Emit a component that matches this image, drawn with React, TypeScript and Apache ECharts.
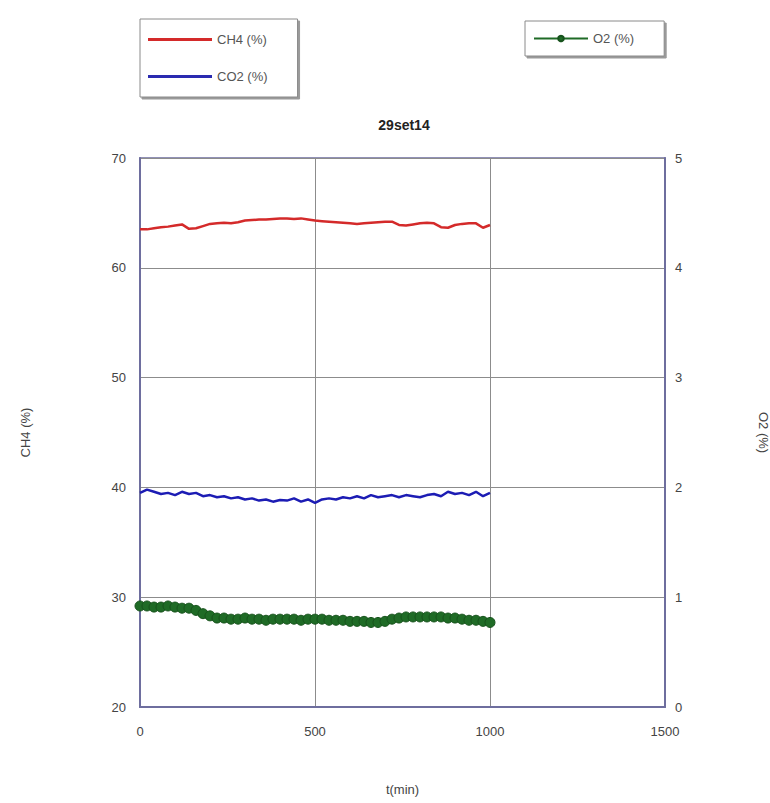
import React, { useEffect, useRef } from "react";
import * as echarts from "echarts";

// Sampling times (min)
const times = [
  0, 20, 40, 60, 80, 100, 120, 140, 160, 180, 200, 220, 240, 260, 280, 300, 320,
  340, 360, 380, 400, 420, 440, 460, 480, 500, 520, 540, 560, 580, 600, 620, 640,
  660, 680, 700, 720, 740, 760, 780, 800, 820, 840, 860, 880, 900, 920, 940, 960,
  980, 1000,
];

// Methane (%), left axis
const ch4 = [
  63.5, 63.5, 63.6, 63.7, 63.75, 63.85, 63.95, 63.55, 63.6, 63.8, 64.0, 64.05,
  64.1, 64.05, 64.15, 64.3, 64.35, 64.4, 64.4, 64.45, 64.5, 64.5, 64.45, 64.5,
  64.4, 64.3, 64.25, 64.2, 64.15, 64.1, 64.05, 64.0, 64.05, 64.1, 64.15, 64.2,
  64.2, 63.9, 63.85, 63.95, 64.05, 64.1, 64.05, 63.7, 63.65, 63.9, 64.0, 64.05,
  64.05, 63.65, 63.9,
];

// Carbon dioxide (%), left axis
const co2 = [
  39.5, 39.8, 39.6, 39.4, 39.5, 39.3, 39.6, 39.4, 39.5, 39.2, 39.3, 39.1, 39.2,
  39.0, 39.1, 38.9, 39.0, 38.8, 38.9, 38.7, 38.85, 38.8, 39.0, 38.7, 38.9, 38.6,
  38.9, 39.0, 38.9, 39.1, 39.0, 39.2, 39.0, 39.3, 39.1, 39.2, 39.3, 39.1, 39.3,
  39.2, 39.1, 39.3, 39.4, 39.2, 39.6, 39.4, 39.5, 39.3, 39.6, 39.2, 39.5,
];

// Oxygen (%), right axis
const o2 = [
  0.92, 0.92, 0.91, 0.91, 0.92, 0.91, 0.9, 0.9, 0.88, 0.85, 0.83, 0.81, 0.81,
  0.8, 0.8, 0.81, 0.8, 0.8, 0.79, 0.8, 0.8, 0.8, 0.8, 0.79, 0.8, 0.8, 0.8, 0.79,
  0.79, 0.79, 0.78, 0.78, 0.78, 0.77, 0.77, 0.78, 0.8, 0.81, 0.82, 0.82, 0.82,
  0.82, 0.82, 0.82, 0.81, 0.81, 0.8, 0.79, 0.79, 0.78, 0.77,
];

const xTicks = { min: 0, max: 1500, interval: 500 };
const leftTicks = { min: 20, max: 70, interval: 10 };
const rightTicks = { min: 0, max: 5, interval: 1 };

const pairs = (ys: number[]) => times.map((t, i) => [t, ys[i]]);

const FONT = "Liberation Sans";
const AXIS_COLOR = "#6e6e9e";
const TEXT_COLOR = "#444";
const RED = "#d42a2a";
const BLUE = "#2a2ab0";
const GREEN = "#1f6b26";

export default function App() {
  const ref = useRef<HTMLDivElement>(null);

  useEffect(() => {
    if (!ref.current) return;
    const chart = echarts.init(ref.current, undefined, { renderer: "svg" });

    const legendBox = {
      orient: "vertical" as const,
      backgroundColor: "#fff",
      borderColor: "#8a8a8a",
      borderWidth: 1,
      shadowColor: "#9a9a9a",
      shadowOffsetX: 2,
      shadowOffsetY: 2,
      shadowBlur: 0,
      textStyle: { fontFamily: FONT, fontSize: 13, color: "#555" },
      selectedMode: false,
    };

    chart.setOption({
      animation: false,
      backgroundColor: "#fff",
      title: {
        text: "29set14",
        left: 399,
        top: 113,
        textAlign: "center",
        textStyle: { fontFamily: FONT, fontSize: 14, fontWeight: "bold", color: "#222" },
      },
      legend: [
        {
          ...legendBox,
          data: [
            { name: "CH4 (%)", icon: "rect", itemStyle: { color: RED } },
            { name: "CO2 (%)", icon: "rect", itemStyle: { color: BLUE } },
          ],
          itemWidth: 64,
          itemHeight: 3,
          itemGap: 24,
          left: 140,
          top: 19,
          padding: [14, 30, 14, 8],
        },
        {
          ...legendBox,
          data: [{ name: "O2 (%)" }],
          itemWidth: 54,
          itemHeight: 7,
          left: 525,
          top: 21,
          padding: [11, 30, 11, 8],
        },
      ],
      grid: {
        left: 140,
        right: 105,
        top: 158,
        bottom: 96,
        outerBoundsMode: "none",
        containLabel: false,
        show: true,
        borderColor: AXIS_COLOR,
        borderWidth: 1.5,
      },
      xAxis: {
        type: "value",
        ...xTicks,
        name: "t(min)",
        nameLocation: "middle",
        nameGap: 76,
        nameTextStyle: { fontFamily: FONT, fontSize: 13, color: TEXT_COLOR },
        axisLine: { show: true, lineStyle: { color: AXIS_COLOR, width: 2 } },
        axisTick: { show: false },
        axisLabel: {
          fontFamily: FONT,
          fontSize: 13,
          color: TEXT_COLOR,
          margin: 18,
          formatter: (v: number) => String(v),
        },
        splitLine: { show: true, lineStyle: { color: "#8c8c8c", width: 1 } },
      },
      yAxis: [
        {
          type: "value",
          ...leftTicks,
          position: "left",
          name: "CH4 (%)",
          nameLocation: "middle",
          nameGap: 108,
          nameTextStyle: { fontFamily: FONT, fontSize: 13, color: TEXT_COLOR },
          axisLine: { show: true, lineStyle: { color: AXIS_COLOR, width: 2 } },
          axisTick: { show: false },
          axisLabel: { fontFamily: FONT, fontSize: 13, color: TEXT_COLOR, margin: 14 },
          splitLine: { show: true, lineStyle: { color: "#8c8c8c", width: 1 } },
        },
        {
          type: "value",
          ...rightTicks,
          position: "right",
          name: "O2 (%)",
          nameLocation: "middle",
          nameGap: 92,
          nameRotate: -90,
          nameTextStyle: { fontFamily: FONT, fontSize: 13, color: TEXT_COLOR },
          axisLine: { show: true, lineStyle: { color: AXIS_COLOR, width: 2 } },
          axisTick: { show: false },
          axisLabel: { fontFamily: FONT, fontSize: 13, color: TEXT_COLOR, margin: 10 },
          splitLine: { show: false },
        },
      ],
      series: [
        {
          name: "CH4 (%)",
          type: "line",
          yAxisIndex: 0,
          data: pairs(ch4),
          showSymbol: false,
          symbol: "none",
          lineStyle: { color: RED, width: 2.5 },
          itemStyle: { color: RED },
        },
        {
          name: "CO2 (%)",
          type: "line",
          yAxisIndex: 0,
          data: pairs(co2),
          showSymbol: false,
          symbol: "none",
          lineStyle: { color: "#1c1cb4", width: 2.5 },
          itemStyle: { color: BLUE },
        },
        {
          name: "O2 (%)",
          type: "line",
          yAxisIndex: 1,
          data: pairs(o2),
          symbol: "circle",
          symbolSize: 10,
          showSymbol: true,
          lineStyle: { color: GREEN, width: 7 },
          itemStyle: { color: GREEN, borderColor: "#17521c", borderWidth: 1 },
        },
      ],
    });

    return () => chart.dispose();
  }, []);

  return (
    <div
      ref={ref}
      style={{ position: "fixed", left: 0, top: 0, width: 770, height: 803 }}
    />
  );
}
